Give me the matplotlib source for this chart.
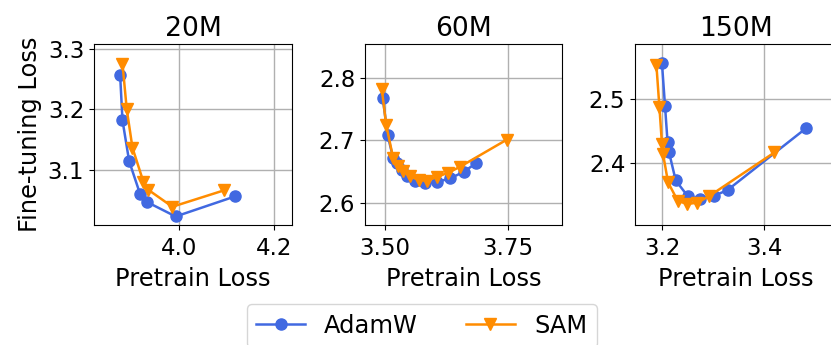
import matplotlib
matplotlib.use("Agg")
import matplotlib.pyplot as plt

titles = ["20M", "60M", "150M"]

# 20M
adamw_20_x = [3.876, 3.881, 3.895, 3.918, 3.932, 3.993, 4.118]
adamw_20_y = [3.257, 3.182, 3.115, 3.061, 3.048, 3.024, 3.057]
sam_20_x = [3.881, 3.890, 3.902, 3.925, 3.935, 3.986, 4.095]
sam_20_y = [3.275, 3.200, 3.137, 3.081, 3.068, 3.040, 3.067]

# 60M
adamw_60_x = [3.495, 3.505, 3.516, 3.524, 3.534, 3.544, 3.561, 3.581, 3.606, 3.632, 3.659, 3.684]
adamw_60_y = [2.768, 2.708, 2.672, 2.663, 2.652, 2.642, 2.634, 2.631, 2.633, 2.639, 2.649, 2.663]
sam_60_x = [3.493, 3.502, 3.516, 3.527, 3.537, 3.551, 3.568, 3.585, 3.605, 3.628, 3.651, 3.747]
sam_60_y = [2.783, 2.725, 2.672, 2.658, 2.650, 2.642, 2.636, 2.635, 2.641, 2.648, 2.657, 2.701]

# 150M
adamw_150_x = [3.199, 3.205, 3.210, 3.213, 3.226, 3.250, 3.274, 3.302, 3.328, 3.482]
adamw_150_y = [2.556, 2.489, 2.432, 2.416, 2.372, 2.347, 2.343, 2.348, 2.357, 2.454]
sam_150_x = [3.188, 3.194, 3.199, 3.201, 3.211, 3.230, 3.248, 3.268, 3.291, 3.420]
sam_150_y = [2.554, 2.487, 2.429, 2.414, 2.369, 2.340, 2.335, 2.337, 2.347, 2.416]

xlims = [(3.821, 4.238), (3.459, 3.859), (3.146, 3.541)]
ylims = [(3.010, 3.307), (2.564, 2.854), (2.302, 2.586)]
xticks = [[4.0, 4.2], [3.50, 3.75], [3.2, 3.4]]
xticklabels = [["4.0", "4.2"], ["3.50", "3.75"], ["3.2", "3.4"]]
yticks = [[3.1, 3.2, 3.3], [2.6, 2.7, 2.8], [2.4, 2.5]]
yticklabels = [["3.1", "3.2", "3.3"], ["2.6", "2.7", "2.8"], ["2.4", "2.5"]]

adamw_x = [adamw_20_x, adamw_60_x, adamw_150_x]
adamw_y = [adamw_20_y, adamw_60_y, adamw_150_y]
sam_x = [sam_20_x, sam_60_x, sam_150_x]
sam_y = [sam_20_y, sam_60_y, sam_150_y]

BLUE = "#4169E1"
ORANGE = "#FF8C00"
TICK_FS = 16.5
LABEL_FS = 17.4
TITLE_FS = 19.2

fig = plt.figure(figsize=(8.31, 3.45), dpi=100)
lefts = [94 / 831, 365 / 831, 635 / 831]
widths = [198 / 831, 197 / 831, 201 / 831]
bottom = 1 - 225 / 345
height = (225 - 44.3) / 345

handles = None
for i in range(3):
    ax = fig.add_axes([lefts[i], bottom, widths[i], height])
    ax.grid(True, color="#b0b0b0", linewidth=1.0, zorder=0)
    ax.set_axisbelow(True)
    h1, = ax.plot(adamw_x[i], adamw_y[i], color=BLUE, marker="o", markersize=8,
                  linewidth=1.8, label="AdamW")
    h2, = ax.plot(sam_x[i], sam_y[i], color=ORANGE, marker="v", markersize=9,
                  linewidth=1.8, label="SAM")
    handles = [h1, h2]
    ax.set_xlim(*xlims[i])
    ax.set_ylim(*ylims[i])
    ax.set_xticks(xticks[i])
    ax.set_xticklabels(xticklabels[i])
    ax.set_yticks(yticks[i])
    ax.set_yticklabels(yticklabels[i])
    ax.tick_params(labelsize=TICK_FS)
    ax.tick_params(axis="x", pad=5)
    ax.set_title(titles[i], fontsize=TITLE_FS, pad=6)
    ax.set_xlabel("Pretrain Loss", fontsize=LABEL_FS, labelpad=5)
    if i == 0:
        ax.set_ylabel("Fine-tuning Loss", fontsize=LABEL_FS)

fig.legend(handles, ["AdamW", "SAM"], loc="upper center",
           bbox_to_anchor=(421.7 / 831, 1 - 292 / 345), ncol=2,
           fontsize=LABEL_FS, frameon=True, columnspacing=2.0)

fig.savefig("out.png", dpi=100)
